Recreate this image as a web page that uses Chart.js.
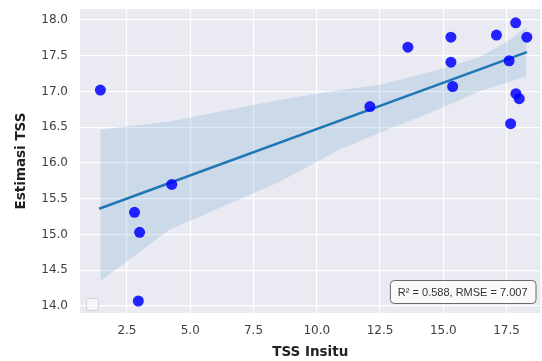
<!DOCTYPE html>
<html>
<head>
<meta charset="utf-8">
<script src="https://cdn.jsdelivr.net/npm/chart.js@4/dist/chart.umd.min.js"></script>
<style>
  html, body { margin: 0; padding: 0; background: #fff; overflow: hidden; }
  #wrap { width: 542px; height: 361px; overflow: hidden; }
  canvas { display: block; }
</style>
</head>
<body>
<!-- canvas is 4px wider than the window: chart.js keeps a few px free on the right -->
<div id="wrap"><canvas id="tssChart" width="546" height="361"></canvas></div>
<script>
// data
const tssInsitu   = [1.45, 2.8, 3.0, 2.95, 4.27, 12.1, 13.6, 15.3, 15.3, 15.37, 17.1, 17.86, 18.3, 17.6, 17.87, 18.0, 17.66];
const estimasiTss = [17.02, 15.31, 15.03, 14.07, 15.70, 16.79, 17.62, 17.76, 17.41, 17.07, 17.79, 17.96, 17.76, 17.43, 16.97, 16.90, 16.55];

// regression line endpoints
const fitX = [1.4, 18.3];
const fitY = [15.36, 17.55];

// confidence band edges
const bandX     = [1.45, 4.19, 8.5, 10.9, 12.46, 14.8, 16.4, 17.46, 18.29];
const bandUpper = [16.47, 16.58, 16.88, 17.02, 17.09, 17.30, 17.48, 17.68, 17.90];
const bandLower = [14.35, 15.07, 15.73, 16.19, 16.42, 16.75, 17.00, 17.12, 17.21];

const statText = 'R\u00B2 = 0.588, RMSE = 7.007';

const colors = {
    panel: '#eaeaf2',
    point: 'rgba(0, 0, 255, 0.85)',
    fit: '#1f77b4',
    band: 'rgba(31, 119, 180, 0.15)',
    tick: '#404040'
};

const zip = (xs, ys) => xs.map((x, i) => ({ x: x, y: ys[i] }));

// seaborn-like grey panel, stats box and empty legend frame
const decor = {
    id: 'decor',
    beforeDraw(chart) {
        const { ctx, chartArea: a } = chart;
        ctx.save();
        ctx.fillStyle = colors.panel;
        ctx.fillRect(a.left, a.top, a.right - a.left, a.bottom - a.top);
        ctx.restore();
    },
    afterDraw(chart) {
        const { ctx, chartArea: a } = chart;
        ctx.save();
        // empty legend square
        ctx.strokeStyle = '#d4d4d8';
        ctx.fillStyle = 'rgba(255,255,255,0.5)';
        ctx.lineWidth = 1;
        ctx.beginPath();
        ctx.roundRect(a.left + 6.5, a.bottom - 14.5, 12, 12, 2);
        ctx.fill();
        ctx.stroke();

        // stats box
        ctx.font = '11px "Liberation Sans", Arial, sans-serif';
        const w = ctx.measureText(statText).width + 16;
        const h = 23;
        const x = a.right - 5 - w;
        const y = a.bottom - 33;
        ctx.beginPath();
        ctx.roundRect(x + 0.5, y + 0.5, w, h, 4);
        ctx.fillStyle = 'rgba(255,255,255,0.75)';
        ctx.fill();
        ctx.strokeStyle = '#6a6a6a';
        ctx.stroke();
        ctx.fillStyle = '#333';
        ctx.textAlign = 'center';
        ctx.textBaseline = 'middle';
        ctx.fillText(statText, x + w / 2, y + h / 2 + 1);
        ctx.restore();
    }
};

new Chart(document.getElementById('tssChart'), {
    type: 'scatter',
    data: {
        datasets: [
            {
                data: zip(tssInsitu, estimasiTss),
                backgroundColor: colors.point,
                borderWidth: 0,
                pointRadius: 5.5,
                order: 0
            },
            {
                type: 'line',
                data: zip(fitX, fitY),
                borderColor: colors.fit,
                borderWidth: 2.5,
                pointRadius: 0,
                fill: false,
                order: 1
            },
            {
                type: 'line',
                data: zip(bandX, bandLower),
                borderWidth: 0,
                pointRadius: 0,
                backgroundColor: colors.band,
                fill: '+1',
                order: 2
            },
            {
                type: 'line',
                data: zip(bandX, bandUpper),
                borderWidth: 0,
                pointRadius: 0,
                fill: false,
                order: 3
            }
        ]
    },
    plugins: [decor],
    options: {
        responsive: false,
        animation: false,
        devicePixelRatio: 1,
        layout: { padding: { top: 9, right: 1, left: 0, bottom: 0 } },
        plugins: {
            legend: { display: false },
            tooltip: { enabled: false }
        },
        scales: {
            x: {
                type: 'linear',
                min: 0.645,
                max: 18.84,
                afterFit: s => {
                    s.height = 48;
                    s.paddingLeft = 0;
                    s.paddingRight = 0;
                },
                border: { display: false },
                grid: { color: '#ffffff', lineWidth: 1.2, drawTicks: false },
                ticks: {
                    stepSize: 2.5,
                    includeBounds: false,
                    padding: 11,
                    color: colors.tick,
                    font: { family: '"DejaVu Sans"', size: 12 },
                    callback: v => v.toFixed(1)
                },
                title: {
                    display: true,
                    text: 'TSS Insitu',
                    color: '#222',
                    padding: { top: 0, bottom: 0 },
                    font: { family: '"DejaVu Sans"', size: 13.5, weight: 'bold' }
                }
            },
            y: {
                min: 13.902,
                max: 18.154,
                afterFit: s => {
                    s.width = 80;
                    s.paddingTop = 0;
                    s.paddingBottom = 0;
                },
                border: { display: false },
                grid: { color: '#ffffff', lineWidth: 1.2, drawTicks: false },
                ticks: {
                    stepSize: 0.5,
                    includeBounds: false,
                    padding: 12,
                    color: colors.tick,
                    font: { family: '"DejaVu Sans"', size: 12 },
                    callback: v => v.toFixed(1)
                },
                title: {
                    display: true,
                    text: 'Estimasi TSS',
                    color: '#222',
                    padding: { top: 13, bottom: 0 },
                    font: { family: '"DejaVu Sans"', size: 13.5, weight: 'bold' }
                }
            }
        }
    }
});
</script>
</body>
</html>
